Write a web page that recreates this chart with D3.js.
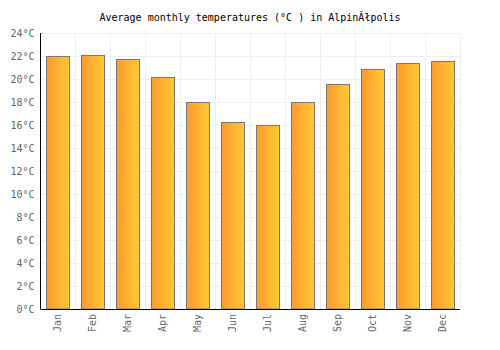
<!DOCTYPE html>
<html lang="en">
<head>
    <meta charset="UTF-8">
    <title>Average monthly temperatures</title>
    <script src="https://d3js.org/d3.v7.min.js"></script>
    <style>
        body { margin: 0; background: #fff; }
        svg { display: block; font-family: 'DejaVu Sans Mono', monospace; }
    </style>
</head>
<body>
<div id="chart"></div>
<script>
    // data
    var months = ['Jan', 'Feb', 'Mar', 'Apr', 'May', 'Jun', 'Jul', 'Aug', 'Sep', 'Oct', 'Nov', 'Dec'];
    var temps = [22.0, 22.1, 21.7, 20.2, 18.0, 16.3, 16.0, 18.0, 19.6, 20.9, 21.4, 21.6];
    var yTicks = [0, 2, 4, 6, 8, 10, 12, 14, 16, 18, 20, 22, 24];
    var title = 'Average monthly temperatures (°C ) in AlpinĂłpolis';

    var width = 500, height = 350;
    var margin = { top: 33, right: 40, bottom: 41, left: 40.5 };

    var svg = d3.select('#chart').append('svg')
        .attr('width', width)
        .attr('height', height);

    // bar gradient, orange to yellow left to right
    var grad = svg.append('defs').append('linearGradient')
        .attr('id', 'barGrad')
        .attr('x1', '0%').attr('x2', '100%')
        .attr('y1', '0%').attr('y2', '0%');
    grad.append('stop').attr('offset', '0%').attr('stop-color', '#ff9a30');
    grad.append('stop').attr('offset', '100%').attr('stop-color', '#ffc933');

    var x = d3.scaleBand()
        .domain(months)
        .range([margin.left, width - margin.right])
        .paddingInner(0.34)
        .paddingOuter(0.17);

    var y = d3.scaleLinear()
        .domain([0, 24])
        .range([height - margin.bottom, margin.top]);

    // horizontal grid
    svg.append('g')
        .selectAll('line')
        .data(yTicks)
        .enter().append('line')
        .attr('x1', margin.left)
        .attr('x2', width - margin.right)
        .attr('y1', d => Math.round(y(d)) + 0.5)
        .attr('y2', d => Math.round(y(d)) + 0.5)
        .attr('stroke', '#eeeeee');

    // vertical grid at band boundaries
    var step = x.step();
    svg.append('g')
        .selectAll('line')
        .data(months)
        .enter().append('line')
        .attr('x1', d => Math.round(x(d) - x.paddingOuter() * step + step) + 0.5)
        .attr('x2', d => Math.round(x(d) - x.paddingOuter() * step + step) + 0.5)
        .attr('y1', margin.top)
        .attr('y2', height - margin.bottom)
        .attr('stroke', '#eeeeee');

    // title
    svg.append('text')
        .attr('x', width / 2)
        .attr('y', 21)
        .attr('text-anchor', 'middle')
        .style('font-size', '10px')
        .style('fill', '#000')
        .text(title);

    // bars
    svg.append('g')
        .selectAll('rect')
        .data(temps)
        .enter().append('rect')
        .attr('x', (d, i) => Math.round(x(months[i])) + 0.5)
        .attr('y', d => Math.round(y(d)) + 0.5)
        .attr('width', Math.round(x.bandwidth()))
        .attr('height', d => y(0) - Math.round(y(d)) - 0.5)
        .attr('fill', 'url(#barGrad)')
        .attr('stroke', '#777777')
        .attr('stroke-width', 1);

    // y tick labels
    svg.append('g')
        .selectAll('text')
        .data(yTicks)
        .enter().append('text')
        .attr('x', margin.left - 6)
        .attr('y', d => y(d))
        .attr('dy', '0.35em')
        .attr('text-anchor', 'end')
        .style('font-size', '10px')
        .style('fill', '#666')
        .text(d => d + '°C');

    // x tick labels, rotated
    svg.append('g')
        .selectAll('text')
        .data(months)
        .enter().append('text')
        .attr('transform', d => 'translate(' + (x(d) + x.bandwidth() / 2) + ',' + (y(0) + 5) + ') rotate(-90)')
        .attr('dy', '0.35em')
        .attr('text-anchor', 'end')
        .style('font-size', '10px')
        .style('fill', '#666')
        .text(d => d);

    // axis lines
    svg.append('line')
        .attr('x1', margin.left).attr('x2', margin.left)
        .attr('y1', margin.top).attr('y2', y(0))
        .attr('stroke', '#000');
    svg.append('line')
        .attr('x1', margin.left).attr('x2', width - margin.right)
        .attr('y1', Math.round(y(0)) + 0.5).attr('y2', Math.round(y(0)) + 0.5)
        .attr('stroke', '#000');
</script>
</body>
</html>
